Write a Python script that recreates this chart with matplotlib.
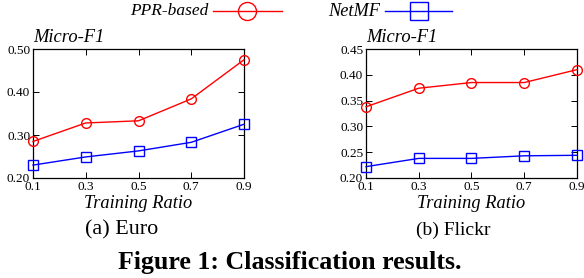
import matplotlib
matplotlib.use("Agg")
import matplotlib.pyplot as plt
from matplotlib.lines import Line2D

ratios = [0.1, 0.3, 0.5, 0.7, 0.9]
euro_ppr = [0.285, 0.328, 0.333, 0.384, 0.475]
euro_netmf = [0.230, 0.249, 0.263, 0.283, 0.325]
flickr_ppr = [0.338, 0.374, 0.385, 0.385, 0.410]
flickr_netmf = [0.222, 0.238, 0.238, 0.243, 0.244]
euro_yticks = [0.20, 0.30, 0.40, 0.50]
flickr_yticks = [0.20, 0.25, 0.30, 0.35, 0.40, 0.45]

plt.rcParams['font.family'] = ['Liberation Serif', 'DejaVu Serif']

W, H = 584, 278
fig = plt.figure(figsize=(W / 100, H / 100), dpi=100)
renderer = fig.canvas.get_renderer()


def axes_px(x0, y0, x1, y1):
    return fig.add_axes([x0 / W, 1 - y1 / H, (x1 - x0) / W, (y1 - y0) / H])


def fit(t, width_px):
    # scale font so the text is as wide as in the reference
    w = t.get_window_extent(renderer).width
    t.set_fontsize(t.get_fontsize() * width_px / w)


def draw(ax, ppr, netmf, yticks):
    ax.plot(ratios, ppr, color='red', lw=1, marker='o', ms=7,
            mfc='none', mec='red', mew=1, clip_on=False, zorder=3)
    ax.plot(ratios, netmf, color='blue', lw=1, marker='s', ms=7,
            mfc='none', mec='blue', mew=1, clip_on=False, zorder=3)
    ax.set_xlim(0.1, 0.9)
    ax.set_ylim(yticks[0], yticks[-1])
    ax.set_xticks(ratios)
    ax.set_xticklabels(['%.1f' % r for r in ratios])
    ax.set_yticks(yticks)
    ax.set_yticklabels(['%.2f' % t for t in yticks])
    ax.tick_params(direction='in', length=4, width=0.7, labelsize=9.5,
                   top=True, right=True)
    ax.tick_params(axis='x', pad=2.5)
    ax.tick_params(axis='y', pad=2)
    for s in ax.spines.values():
        s.set_linewidth(0.9)
    cx = (ax.get_position().x0 + ax.get_position().x1) / 2
    t = fig.text(cx, 1 - 203 / H, 'Training Ratio', fontsize=12,
                 style='italic', ha='center', va='center')
    fit(t, 108)
    t = fig.text(ax.get_position().x0, 1 - 38 / H, 'Micro-F1', fontsize=12,
                 style='italic', ha='left', va='center')
    fit(t, 71)


ax1 = axes_px(33, 49, 244, 178)
draw(ax1, euro_ppr, euro_netmf, euro_yticks)
ax2 = axes_px(366, 49, 577, 178)
draw(ax2, flickr_ppr, flickr_netmf, flickr_yticks)

# legend at top
ly = 1 - 11 / H
t = fig.text(208 / W, ly, 'PPR-based', fontsize=12, style='italic',
             ha='right', va='center')
fit(t, 78)
fig.add_artist(Line2D([213 / W, 282 / W], [ly] * 2, color='red', lw=1))
fig.add_artist(Line2D([247 / W], [ly], color='red', marker='o', ms=13,
                      mfc='none', mec='red', mew=1))
t = fig.text(380 / W, ly, 'NetMF', fontsize=12, style='italic',
             ha='right', va='center')
fit(t, 52)
fig.add_artist(Line2D([385 / W, 452 / W], [ly] * 2, color='blue', lw=1))
fig.add_artist(Line2D([419 / W], [ly], color='blue', marker='s', ms=13,
                      mfc='none', mec='blue', mew=1))

t = fig.text(121.5 / W, 1 - 230 / H, '(a) Euro', fontsize=13, ha='center', va='center')
fit(t, 73)
t = fig.text(453 / W, 1 - 230 / H, '(b) Flickr', fontsize=13, ha='center', va='center')
fit(t, 74)
t = fig.text(290 / W, 1 - 263 / H, 'Figure 1: Classification results.', fontsize=16,
             fontweight='bold', ha='center', va='center')
fit(t, 344)

fig.savefig('out.png', dpi=100)
